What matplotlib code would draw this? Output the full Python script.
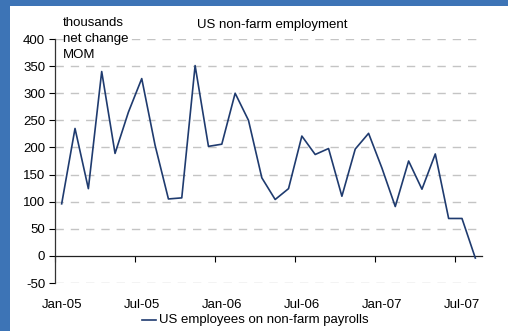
import numpy as np
import matplotlib.pyplot as plt
from matplotlib.patches import Rectangle
import matplotlib.transforms as mtransforms

plt.rcParams['font.family'] = ['Liberation Sans', 'DejaVu Sans']
plt.rcParams['axes.unicode_minus'] = False

# monthly net change, Jan-05 .. Aug-07 (thousands)
months = ['Jan-05', 'Feb-05', 'Mar-05', 'Apr-05', 'May-05', 'Jun-05', 'Jul-05', 'Aug-05',
          'Sep-05', 'Oct-05', 'Nov-05', 'Dec-05', 'Jan-06', 'Feb-06', 'Mar-06', 'Apr-06',
          'May-06', 'Jun-06', 'Jul-06', 'Aug-06', 'Sep-06', 'Oct-06', 'Nov-06', 'Dec-06',
          'Jan-07', 'Feb-07', 'Mar-07', 'Apr-07', 'May-07', 'Jun-07', 'Jul-07', 'Aug-07']
payrolls = [96, 235, 124, 340, 189, 265, 327, 204,
            105, 107, 351, 202, 206, 300, 250, 144,
            104, 124, 221, 187, 198, 110, 197, 226,
            162, 91, 175, 123, 188, 69, 69, -4]
label_months = ['Jan-05', 'Jul-05', 'Jan-06', 'Jul-06', 'Jan-07', 'Jul-07']
y_ticks = [-50, 0, 50, 100, 150, 200, 250, 300, 350, 400]

FS = 9.5

fig = plt.figure(figsize=(5.08, 3.31), dpi=100)
fig.patch.set_facecolor('#3d74b6')
fig.patches.append(Rectangle((10 / 508, 0), 1, 1 - 6 / 331, transform=fig.transFigure,
                             facecolor='white', edgecolor='none', zorder=-5))

ax = fig.add_axes([55 / 508, 1 - 283 / 331, 427 / 508, 244 / 331])
ax.set_facecolor('none')

x = np.arange(len(months))
ax.plot(x, payrolls, color='#1f3b6f', lw=1.2, zorder=3)

ax.set_xlim(-0.5, len(months) - 0.5)
ax.set_ylim(-50, 400)
ax.set_yticks(y_ticks)
ax.tick_params(axis='y', direction='out', length=4, width=0.8, pad=3,
               labelsize=FS, colors='black')
for v in y_ticks:
    if v != 0:
        ax.axhline(v, color='#c4c4c4', lw=1, ls=(0, (6, 5)), zorder=1)

for s in ['top', 'right']:
    ax.spines[s].set_visible(False)
ax.spines['left'].set_color('#333333')
ax.spines['left'].set_linewidth(0.9)
ax.spines['bottom'].set_position(('data', 0))
ax.spines['bottom'].set_color('#222222')
ax.spines['bottom'].set_linewidth(0.9)

bound = [months.index(m) - 0.5 for m in label_months]
ax.set_xticks(bound)
ax.set_xticklabels([''] * len(bound))
ax.tick_params(axis='x', direction='out', length=4, width=0.8)

trans = mtransforms.blended_transform_factory(ax.transData, ax.transAxes)
for m in label_months:
    ax.text(months.index(m), -0.09, m, transform=trans, ha='center', va='center',
            fontsize=FS)

fig.text(63 / 508, 1 - 17 / 331, 'thousands\nnet change\nMOM', ha='left', va='top',
         fontsize=FS, linespacing=1.45)
fig.text(272 / 508, 1 - 25 / 331, 'US non-farm employment', ha='center', va='center',
         fontsize=FS)

fig.add_artist(plt.Line2D([142 / 508, 156 / 508], [1 - 320 / 331, 1 - 320 / 331],
                          color='#1f3b6f', lw=1.2))
fig.text(159 / 508, 1 - 320 / 331, 'US employees on non-farm payrolls', ha='left',
         va='center', fontsize=FS)

fig.savefig('out.png', dpi=100, facecolor=fig.get_facecolor())
